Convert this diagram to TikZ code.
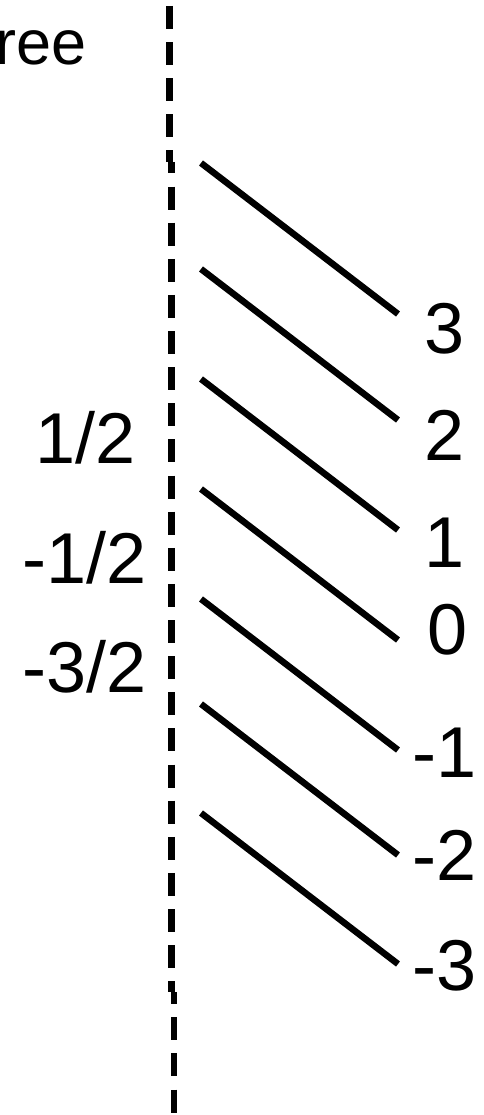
\documentclass[tikz,border=0pt]{standalone}
\usepackage{fontspec}
\setmainfont{Liberation Sans}
\begin{document}
\begin{tikzpicture}[x=1pt,y=-1pt,
  lbl/.style={inner sep=0pt, anchor=base west, font=\fontsize{72}{80}\selectfont},
  toplbl/.style={inner sep=0pt, anchor=base west, font=\fontsize{63}{70}\selectfont},
  level/.style={line width=6.5pt},
  axisline/.style={line width=6.7pt, dash pattern=on 23pt off 13.12pt}]
\useasboundingbox (0,0) rectangle (483,1115);
% dashed axis (with its small jogs)
\coordinate (a0) at (169.5,6);
\coordinate (a1) at (169.5,162);
\coordinate (b0) at (171.5,162);
\coordinate (b1) at (171.5,992);
\coordinate (c0) at (174,992);
\coordinate (c1) at (174,1115);
\draw[axisline] (a0) -- (a1);
\draw[axisline, dash phase=11.52pt] (b0) -- (b1);
\draw[axisline, dash phase=10.76pt] (c0) -- (c1);
% left labels
\node[toplbl] (ree) at (-5,65) {ree};
\node[lbl] (h1) at (35,463) {1/2};
\node[lbl] (h2) at (22,583) {-1/2};
\node[lbl] (h3) at (22,692) {-3/2};
% level lines
\foreach \s/\n in {163/p3,269/p2,379/p1,489/z0,599/m1,704/m2,813/m3}{
  \coordinate (\n s) at (201,\s);
  \coordinate (\n e) at (398,\s+151);
  \draw[level] (\n s) -- (\n e);
}
% right labels
\node[lbl] (l3) at (424,353) {3};
\node[lbl] (l2) at (424,460) {2};
\node[lbl] (l1) at (424,567) {1};
\node[lbl] (l0) at (427,654) {0};
\node[lbl] (lm1) at (412,777) {-1};
\node[lbl] (lm2) at (412,880) {-2};
\node[lbl] (lm3) at (412,990) {-3};
\end{tikzpicture}
\end{document}
